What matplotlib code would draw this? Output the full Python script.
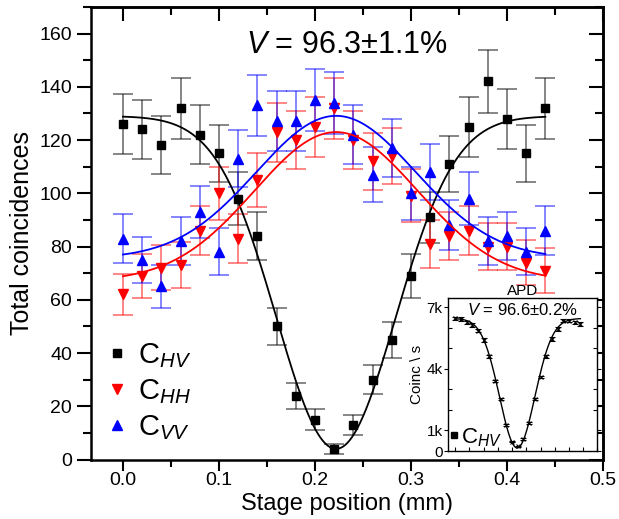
import numpy as np
import matplotlib.pyplot as plt
from matplotlib.ticker import MultipleLocator, FixedLocator, FixedFormatter

plt.rcParams['font.family'] = ['Liberation Sans', 'DejaVu Sans']
plt.rcParams['mathtext.fontset'] = 'custom'
plt.rcParams['mathtext.rm'] = 'Liberation Sans'
plt.rcParams['mathtext.it'] = 'Liberation Sans:italic'

# stage positions (mm)
stage = [0.00, 0.02, 0.04, 0.06, 0.08, 0.10, 0.12, 0.14, 0.16, 0.18, 0.20, 0.22,
         0.24, 0.26, 0.28, 0.30, 0.32, 0.34, 0.36, 0.38, 0.40, 0.42, 0.44]

# total coincidences
c_hv = [126, 124, 118, 132, 122, 115, 98, 84, 50, 24, 15, 4,
        13, 30, 45, 69, 91, 111, 125, 142, 128, 115, 132]
c_hh = [62, 69, 72, 73, 86, 100, 83, 105, 123, 120, 125, 132,
        120, 112, 114, 99, 81, 84, 86, 80, 80, 74, 71]
c_vv = [83, 75, 65, 82, 93, 78, 113, 133, 127, 127, 135, 134,
        122, 107, 117, 100, 108, 88, 98, 82, 84, 78, 86]

# gaussian fit parameters (baseline, amplitude, centre, width)
fit_hv = (129.0, -125.0, 0.222, 0.062)
fit_hh = (67.0, 56.0, 0.222, 0.085)
fit_vv = (75.5, 53.6, 0.222, 0.083)

# inset (APD) data, kcoinc/s
apd = [6.46, 6.43, 6.26, 6.13, 5.86, 5.40, 4.60, 3.41, 2.51, 1.28, 0.46, 0.22,
       0.58, 1.36, 2.51, 3.60, 4.60, 5.45, 5.94, 6.35, 6.35, 6.26, 6.18]
apd_err = [0.08, 0.08, 0.08, 0.08, 0.08, 0.08, 0.07, 0.06, 0.05, 0.04, 0.03, 0.02,
           0.03, 0.04, 0.05, 0.06, 0.07, 0.08, 0.08, 0.08, 0.08, 0.08, 0.08]
fit_apd = (6.45, -6.3, 0.218, 0.062)


def gauss(x, p):
    base, amp, x0, sig = p
    return base + amp * np.exp(-(x - x0) ** 2 / (2 * sig ** 2))


fig = plt.figure(figsize=(6.19, 5.19), dpi=100)
ax = fig.add_axes([0.147, 0.1146, 0.827, 0.872])

xs = np.linspace(0, 0.44, 400)
series = [(c_hv, fit_hv, 'black', 's', 'C$_{\\mathit{HV}}$', 5.5),
          (c_hh, fit_hh, 'red', 'v', 'C$_{\\mathit{HH}}$', 6.5),
          (c_vv, fit_vv, 'blue', '^', 'C$_{\\mathit{VV}}$', 6.5)]

handles = []
for vals, fit, col, mk, lab, ms in series:
    vals = np.array(vals, dtype=float)
    ax.errorbar(stage, vals, yerr=np.sqrt(vals), fmt='none', ecolor=col,
                elinewidth=1.1, capsize=7, capthick=1.1, alpha=0.6, zorder=2)
    h, = ax.plot(stage, vals, linestyle='none', marker=mk, color=col,
                 markersize=ms, zorder=3, label=lab)
    handles.append(h)
for vals, fit, col, mk, lab, ms in series:
    ax.plot(xs, gauss(xs, fit), color=col, linewidth=1.3, zorder=4)

ax.set_xlim(-0.0333, 0.5)
ax.set_ylim(0, 170)
ax.xaxis.set_major_locator(MultipleLocator(0.1))
ax.xaxis.set_minor_locator(MultipleLocator(0.05))
ax.yaxis.set_major_locator(MultipleLocator(20))
ax.yaxis.set_minor_locator(MultipleLocator(10))
ax.xaxis.set_major_formatter('{x:.1f}')

ax.tick_params(which='both', direction='out', width=1.5, labelsize=14)
ax.tick_params(which='major', length=10)
ax.tick_params(which='minor', length=6)
ax.tick_params(axis='x', which='major', length=8, pad=1)
ax.tick_params(axis='x', which='minor', length=5)
for side in ['top', 'right']:
    sec = ax.secondary_xaxis('top') if side == 'top' else ax.secondary_yaxis('right')
    axis = sec.xaxis if side == 'top' else sec.yaxis
    axis.set_major_locator(MultipleLocator(0.1 if side == 'top' else 20))
    axis.set_minor_locator(MultipleLocator(0.05 if side == 'top' else 10))
    sec.tick_params(which='both', direction='in', width=1.5)
    sec.tick_params(which='major', length=10)
    sec.tick_params(which='minor', length=6)
    axis.set_major_formatter(FixedFormatter([]))
    sec.spines[side].set_linewidth(1.8)
for s in ax.spines.values():
    s.set_linewidth(1.8)

ax.set_xlabel('Stage position (mm)', fontsize=17, labelpad=3)
ax.set_ylabel('Total coincidences', fontsize=18, labelpad=4)
ax.text(0.5, 0.916, '$V$ = 96.3±1.1%', transform=ax.transAxes,
        ha='center', va='center', fontsize=22)

ax.legend(handles=handles, loc='lower left', bbox_to_anchor=(0.0, 0.0),
          frameon=False, fontsize=21, handlelength=0.6, handletextpad=0.4,
          labelspacing=0.25, borderaxespad=0.2)

# inset
ins = fig.add_axes([0.724, 0.131, 0.241, 0.295])
ins.set_facecolor('white')
xa = np.linspace(0, 0.44, 400)
ins.errorbar(stage, apd, yerr=apd_err, fmt='none', ecolor='black',
             elinewidth=0.8, capsize=2, capthick=0.8)
ins.plot(stage, apd, linestyle='none', marker='x', color='black', markersize=2.5,
         markeredgewidth=0.8)
ins.plot(xa, gauss(xa, fit_apd), color='black', linewidth=1.0)
ins.set_xlim(-0.025, 0.5)
ins.set_ylim(0, 7.45)
ins.xaxis.set_major_locator(MultipleLocator(0.05))
ins.xaxis.set_major_formatter(FixedFormatter([]))
ins.yaxis.set_major_locator(FixedLocator([0, 1, 4, 7]))
ins.yaxis.set_major_formatter(FixedFormatter(['0', '1k', '4k', '7k']))
ins.yaxis.set_minor_locator(FixedLocator([2, 3, 5, 6]))
ins.tick_params(axis='x', which='both', direction='in', length=3, width=0.8)
ins.tick_params(axis='y', which='major', direction='out', length=3, width=0.8,
                labelsize=11, pad=1)
ins.tick_params(axis='y', which='minor', direction='in', length=3, width=0.8)
ins.tick_params(axis='y', which='both', right=True)
for s in ins.spines.values():
    s.set_linewidth(1.0)
ins.set_ylabel('Coinc \\ s', fontsize=11, labelpad=2)
ins.set_title('APD', fontsize=11, pad=2)
ins.text(0.5, 0.92, '$V$ = 96.6±0.2%', transform=ins.transAxes, ha='center',
         va='center', fontsize=12)
ins.plot([], [], linestyle='none', marker='s', color='black', markersize=4,
         label='C$_{\\mathit{HV}}$')
ins.legend(loc='lower left', frameon=False, fontsize=16, handlelength=0.3,
           handletextpad=0.2, borderaxespad=0.0, borderpad=0.1)

fig.savefig('out.png', dpi=100)
